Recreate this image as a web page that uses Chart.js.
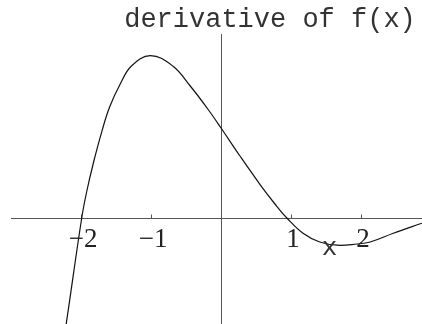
<!DOCTYPE html>
<html>
<head>
<meta charset="utf-8">
<script src="https://cdn.jsdelivr.net/npm/chart.js@4/dist/chart.umd.min.js"></script>
<style>
    html, body { margin: 0; padding: 0; background: #fff; }
    #wrap { width: 422px; height: 324px; }
</style>
</head>
<body>
<div id="wrap"><canvas id="derivChart" width="422" height="324"></canvas></div>
<script>
// sampled points of the derivative curve
const xValues = [-2.25, -2.21, -1.99, -1.92, -1.82, -1.70, -1.59, -1.44, -1.28, -1.01, -0.69, -0.44, -0.20, 0, 0.27, 0.56, 0.77, 0.94, 1.17, 1.41, 1.66, 1.94, 2.13, 2.46, 2.87];
const yValues = [-3.05, -2.63, 0, 0.65, 1.40, 2.18, 2.78, 3.35, 3.80, 4.06, 3.80, 3.30, 2.75, 2.25, 1.55, 0.83, 0.35, 0, -0.38, -0.60, -0.68, -0.65, -0.60, -0.38, -0.13];

// axis ticks along x
const tickValues = [-2, -1, 1, 2];
const tickLabels = ['\u22122', '\u22121', '1', '2'];

const titleText = 'derivative of f(x)';
const axisLabel = 'x';

const points = xValues.map((x, i) => ({ x: x, y: yValues[i] }));

// axes crossing at the origin, tick labels, axis label and title
const axesPlugin = {
    id: 'axesThroughOrigin',
    beforeDatasetsDraw(chart) {
        const ctx = chart.ctx;
        const xs = chart.scales.x;
        const ys = chart.scales.y;
        const area = chart.chartArea;
        const x0 = Math.round(xs.getPixelForValue(0)) + 0.5;
        const y0 = Math.round(ys.getPixelForValue(0)) + 0.5;

        ctx.save();
        ctx.strokeStyle = '#555';
        ctx.lineWidth = 1;
        ctx.beginPath();
        ctx.moveTo(area.left, y0);
        ctx.lineTo(area.right, y0);
        ctx.moveTo(x0, area.top);
        ctx.lineTo(x0, area.bottom);
        ctx.stroke();

        // small tick marks
        ctx.beginPath();
        tickValues.forEach(v => {
            const px = Math.round(xs.getPixelForValue(v)) + 0.5;
            ctx.moveTo(px, y0);
            ctx.lineTo(px, y0 - 4);
        });
        ctx.stroke();
        ctx.restore();
    },
    afterDraw(chart) {
        const ctx = chart.ctx;
        const xs = chart.scales.x;
        const ys = chart.scales.y;
        const y0 = ys.getPixelForValue(0);

        ctx.save();
        ctx.fillStyle = '#222';
        ctx.textAlign = 'center';
        ctx.textBaseline = 'alphabetic';

        ctx.font = '27px "Liberation Serif", serif';
        tickValues.forEach((v, i) => {
            ctx.fillText(tickLabels[i], xs.getPixelForValue(v) + 2, y0 + 29);
        });

        ctx.fillStyle = '#333';
        ctx.font = '26px "Liberation Mono", monospace';
        ctx.fillText(axisLabel, xs.getPixelForValue(1.55), y0 + 37);

        ctx.font = '27px "Liberation Mono", monospace';
        ctx.fillText(titleText, 270, 27);
        ctx.restore();
    }
};

const ctx = document.getElementById('derivChart').getContext('2d');
const derivChart = new Chart(ctx, {
    type: 'scatter',
    data: {
        datasets: [{
            data: points,
            showLine: true,
            borderColor: '#111',
            borderWidth: 1.2,
            pointRadius: 0,
            tension: 0.4,
            fill: false
        }]
    },
    options: {
        responsive: false,
        animation: false,
        layout: {
            padding: { left: 11, right: 0, top: 34, bottom: 0 }
        },
        plugins: {
            legend: { display: false },
            tooltip: { enabled: false },
            title: { display: false }
        },
        scales: {
            x: { type: 'linear', min: -3, max: 2.87, display: false },
            y: { type: 'linear', min: -2.65, max: 4.6, display: false }
        }
    },
    plugins: [axesPlugin]
});
</script>
</body>
</html>
